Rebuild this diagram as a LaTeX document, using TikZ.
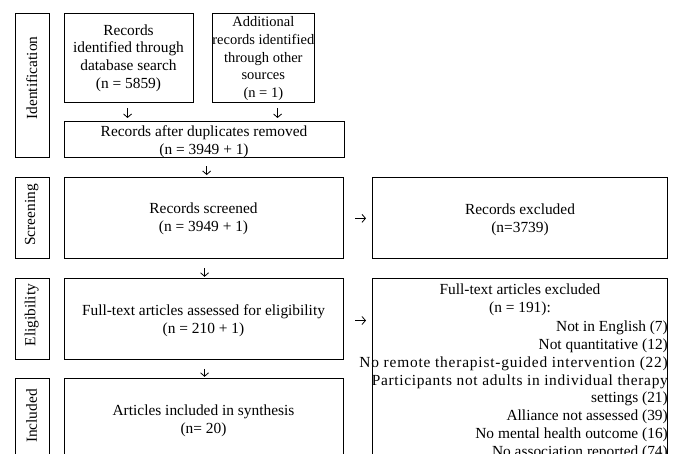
\documentclass[tikz,border=0pt]{standalone}
\usepackage{fontspec}
\setmainfont{Liberation Serif}
\usetikzlibrary{arrows.meta}
\begin{document}
\begin{tikzpicture}[x=1pt,y=-1pt,
  box/.style={draw, line width=1.1pt, inner sep=0pt, anchor=north west},
  txt/.style={font=\fontsize{15.4}{17.7}\selectfont, align=center, inner sep=0pt},
  rline/.style={font=\fontsize{15.4}{17.7}\selectfont, inner sep=0pt, anchor=base east},
  side/.style={font=\fontsize{15.4}{17.7}\selectfont, inner sep=0pt, rotate=90},
  arr/.style={line width=0.8pt, -{Straight Barb[length=3.5pt,width=8pt]}}]
\useasboundingbox (0,0) rectangle (676,453);
\clip (0,0) rectangle (676,453);
% side boxes
\node[box, minimum width=34pt, minimum height=144pt] (sident) at (14.7,12.7) {};
\node[box, minimum width=34pt, minimum height=81pt] (sscreen) at (14.7,177.3) {};
\node[box, minimum width=34pt, minimum height=80.7pt] (selig) at (14.7,278.3) {};
\node[box, minimum width=34pt, minimum height=100pt] (sincl) at (14.7,378.3) {};
\node[side] (tident) at (31.7,78) {Identification};
\node[side] (tscreen) at (31.7,215) {Screening};
\node[side] (telig) at (31.7,315) {Eligibility};
\node[side] (tincl) at (31.7,416) {Included};
% main boxes
\node[box, minimum width=128.4pt, minimum height=89.3pt] (db) at (64.3,12.7) {};
\node[box, minimum width=102pt, minimum height=89.3pt] (other) at (212.3,12.7) {};
\node[box, minimum width=279.7pt, minimum height=35.7pt] (dup) at (64.3,121) {};
\node[box, minimum width=278.4pt, minimum height=81pt] (screened) at (64.3,177.3) {};
\node[box, minimum width=278.4pt, minimum height=80.7pt] (fulltext) at (64.3,278.3) {};
\node[box, minimum width=278.4pt, minimum height=100pt] (included) at (64.3,378.3) {};
\node[box, minimum width=295pt, minimum height=81pt] (excluded) at (372.3,177.3) {};
\node[box, minimum width=295pt, minimum height=200pt] (ftexcl) at (372.3,278) {};
% texts
\node[txt] (tdb) at (128.5,58) {Records\\identified through\\database search\\(n = 5859)};
\node[txt, font=\fontsize{14.5}{17.7}\selectfont] (tother) at (263.3,58.8) {Additional\\records identified\\through other\\sources\\(n = 1)};
\node[txt] (tdup) at (204,141.5) {Records after duplicates removed\\(n = 3949 + 1)};
\node[txt] (tscr) at (203.5,219) {Records screened\\(n = 3949 + 1)};
\node[txt] (tft) at (203.5,321) {Full-text articles assessed for eligibility\\(n = 210 + 1)};
\node[txt] (tinc) at (203.5,421) {Articles included in synthesis\\(n= 20)};
\node[txt] (texc) at (520,220) {Records excluded\\(n=3739)};
\node[txt] (tfte) at (520,300) {Full-text articles excluded\\(n = 191):};
\node[rline] (r1) at (668,331.6) {Not in English (7)};
\node[rline] (r2) at (668,349.4) {Not quantitative (12)};
\node[rline] (r3) at (668,367.2) {\addfontfeature{LetterSpace=5.2}No remote therapist-guided intervention (22)};
\node[rline] (r4) at (668,385) {\addfontfeature{LetterSpace=4.5}Participants not adults in individual therapy};
\node[rline] (r5) at (668,402.8) {settings (21)};
\node[rline] (r6) at (668,420.6) {Alliance not assessed (39)};
\node[rline] (r7) at (668,438.4) {No mental health outcome (16)};
\node[rline] (r8) at (668,456.2) {No association reported (74)};
% arrows
\draw[arr] ([xshift=-1.5pt,yshift=-5pt]db.south) -- ([xshift=-1.5pt,yshift=3pt]db.south |- dup.north);
\draw[arr] ([xshift=13.7pt,yshift=-5pt]other.south) -- ([xshift=13.7pt,yshift=3pt]other.south |- dup.north);
\draw[arr] ([xshift=2pt,yshift=-8.5pt]dup.south) -- ([xshift=2pt,yshift=2.3pt]dup.south |- screened.north);
\draw[arr] ([xshift=0.5pt,yshift=-8.7pt]screened.south) -- ([xshift=0.5pt,yshift=1.5pt]screened.south |- fulltext.north);
\draw[arr] ([xshift=0.5pt,yshift=-8.7pt]fulltext.south) -- ([xshift=0.5pt,yshift=1.5pt]fulltext.south |- included.north);
\draw[arr] ([xshift=11.3pt]screened.east) -- ([xshift=-6.3pt]excluded.west |- screened.east);
\draw[arr] ([xshift=11.3pt,yshift=-1.3pt]fulltext.east) -- ([xshift=-6.3pt,yshift=-1.3pt]ftexcl.west |- fulltext.east);
\end{tikzpicture}
\end{document}
